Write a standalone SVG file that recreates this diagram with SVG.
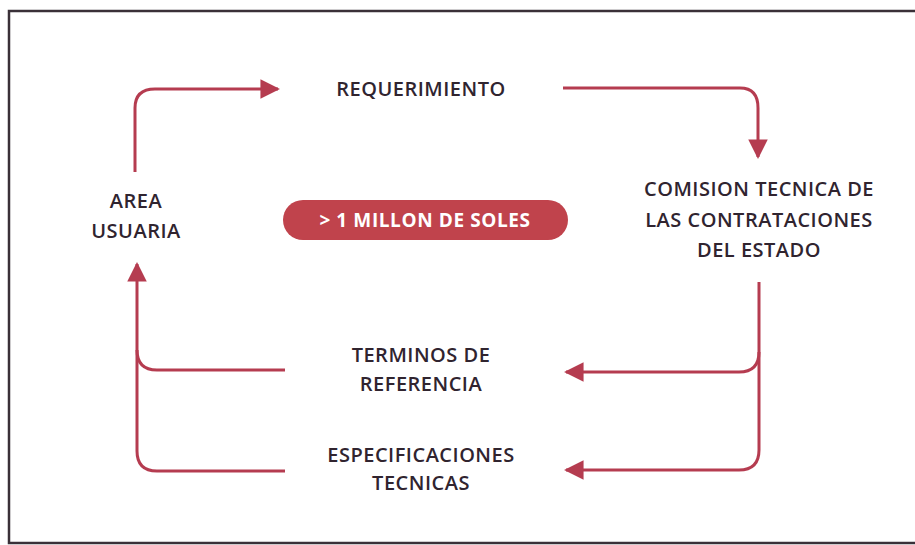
<svg xmlns="http://www.w3.org/2000/svg" width="915" height="545" viewBox="0 0 915 545">
<defs>
<style>
.t{font-family:"Open Sans","Liberation Sans",sans-serif;font-size:20px;font-weight:600;fill:#30242f;text-anchor:middle;letter-spacing:0.5px}
.c{fill:none;stroke:#b53c50;stroke-width:3}
.pt{font-family:"Open Sans","Liberation Sans",sans-serif;font-size:19px;font-weight:bold;fill:#ffffff;text-anchor:middle;letter-spacing:0.6px}
</style>
<marker id="ah" viewBox="0 0 10 10" refX="9" refY="5" markerWidth="6.5" markerHeight="6.5" orient="auto" markerUnits="strokeWidth">
<path d="M0,0 L10,5 L0,10 z" fill="#b53c50"/>
</marker>
</defs>
<rect x="0" y="0" width="915" height="545" fill="#ffffff"/>
<rect x="9" y="11" width="920" height="532" fill="none" stroke="#3a3038" stroke-width="2.5"/>
<g id="connectors">
<path class="c" d="M135,172 V108 Q135,89 155,89 H278" marker-end="url(#ah)"/>
<path class="c" d="M563,88 H740 Q758,88 758,108 V157" marker-end="url(#ah)"/>
<path class="c" d="M759,282 V352 Q759,372 739,372 H566" marker-end="url(#ah)"/>
<path class="c" d="M759,352 V450 Q759,470 739,470 H566" marker-end="url(#ah)"/>
<path class="c" d="M285,370 H157 Q137,370 137,350 V264" marker-end="url(#ah)"/>
<path class="c" d="M285,471 H157 Q137,471 137,451 V350"/>
</g>
<g id="requerimiento"><text class="t" x="421" y="96">REQUERIMIENTO</text></g>
<g id="area-usuaria"><text class="t" x="136" y="208">AREA</text><text class="t" x="136" y="238">USUARIA</text></g>
<g id="comision"><text class="t" x="759" y="196">COMISION TECNICA DE</text><text class="t" x="759" y="227">LAS CONTRATACIONES</text><text class="t" x="759" y="257">DEL ESTADO</text></g>
<g id="terminos"><text class="t" x="421" y="362">TERMINOS DE</text><text class="t" x="421" y="391">REFERENCIA</text></g>
<g id="especificaciones"><text class="t" x="421" y="462">ESPECIFICACIONES</text><text class="t" x="421" y="490">TECNICAS</text></g>
<g id="monto"><rect x="283" y="200" width="285" height="40" rx="20" fill="#c0434c"/><text class="pt" x="425" y="227">&gt; 1 MILLON DE SOLES</text></g>
</svg>
